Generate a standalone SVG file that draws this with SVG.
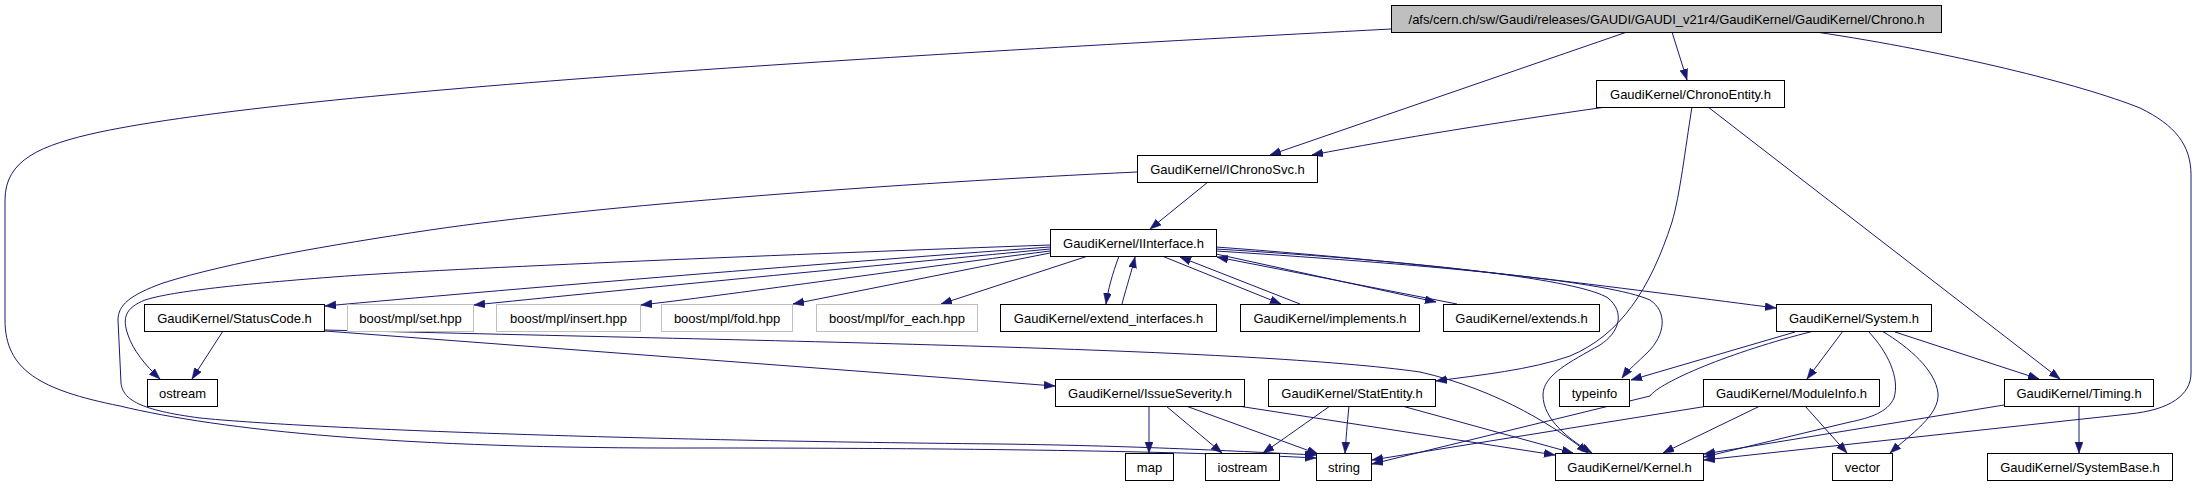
<svg xmlns="http://www.w3.org/2000/svg" width="2201" height="501" viewBox="0 0 2201 501">
<defs>
<marker id="a" markerUnits="userSpaceOnUse" markerWidth="12" markerHeight="9" refX="11" refY="4" orient="auto">
<path d="M0,0 L11,4 L0,8 z" fill="#191970" stroke="#191970" stroke-width="0.5"/>
</marker>
</defs>
<style>
rect{fill:#fff;stroke:#000;stroke-width:1}
.gray rect{stroke:#bfbfbf}
#n_chrono rect{fill:#bfbfbf}
text{font-family:"Liberation Sans",Arial,sans-serif;font-size:13px;text-anchor:middle;fill:#000}
#edges path{fill:none;stroke:#191970;stroke-width:1;marker-end:url(#a)}
</style>
<rect x="0" y="0" width="2201" height="501" style="fill:#fff;stroke:none"/>
<g id="edges">
<path d="M1391,29 C900,55 300,90 100,132 C40,145 5,160 5,200 L5,320 C5,370 40,390 120,406 C220,430 400,449 700,448 C1000,448 1200,452 1316,458"/>
<path d="M1137,172 C900,183 600,205 430,230 C330,245 230,262 163,283 C130,295 118,305 118,320 L121,383 C123,400 140,410 200,418 C300,428 600,440 1000,444 C1150,446 1250,452 1316,455"/>
<path d="M1627,32 L1270,155"/>
<path d="M1672,32 L1687,80"/>
<path d="M1816,32 C1950,52 2080,84 2140,108 C2175,125 2191,145 2191,175 L2191,373 C2191,395 2170,410 2129,414 L1704,460"/>
<path d="M1606,107 C1500,122 1400,138 1312,155"/>
<path d="M1692,107 C1685,150 1680,195 1672,222 C1650,290 1620,335 1570,356 C1530,370 1480,375 1436,381"/>
<path d="M1708,107 L2060,379"/>
<path d="M1208,182 L1150,229"/>
<path d="M1050,247 C800,265 500,290 325,306"/>
<path d="M1050,249 C850,268 600,292 474,305"/>
<path d="M1050,251 C900,270 720,296 641,305"/>
<path d="M1050,253 L793,304"/>
<path d="M1088,256 L941,304"/>
<path d="M1119,256 C1112,275 1108,290 1106,304"/>
<path d="M1122,304 C1127,285 1132,270 1135,257"/>
<path d="M1162,256 L1281,304"/>
<path d="M1300,304 L1180,257"/>
<path d="M1216,254 L1436,302"/>
<path d="M1457,304 L1217,257"/>
<path d="M1050,245 C800,254 450,268 333,277 C230,285 170,292 145,300 C125,308 122,318 128,335 C133,350 145,365 160,379"/>
<path d="M1216,247 C1450,264 1650,292 1776,308"/>
<path d="M1216,251 C1450,266 1610,282 1650,300 C1668,312 1665,335 1648,352 C1638,362 1628,370 1622,378"/>
<path d="M1216,249 C1430,262 1580,280 1608,298 C1625,312 1620,332 1600,345 C1570,362 1543,375 1543,395 C1543,420 1570,440 1592,453"/>
<path d="M223,331 L192,379"/>
<path d="M325,331 L1055,386"/>
<path d="M325,330 C800,342 1250,348 1420,372 C1500,390 1560,430 1588,453"/>
<path d="M1149,406 L1149,453"/>
<path d="M1166,406 L1222,453"/>
<path d="M1186,406 L1318,454"/>
<path d="M1238,406 L1555,455"/>
<path d="M1330,406 C1310,420 1285,438 1263,453"/>
<path d="M1349,406 C1347,425 1346,440 1345,453"/>
<path d="M1402,406 L1573,453"/>
<path d="M1795,332 L1631,380"/>
<path d="M1814,331 C1730,352 1660,382 1650,396 L1372,464"/>
<path d="M1708,406 L1372,460"/>
<path d="M1843,331 L1807,379"/>
<path d="M1868,331 C1888,352 1900,378 1894,398 C1888,412 1870,418 1850,422 L1704,457"/>
<path d="M1882,331 C1910,348 1935,370 1938,393 C1940,415 1910,435 1890,453"/>
<path d="M1895,332 L2039,379"/>
<path d="M1760,406 L1663,453"/>
<path d="M1805,406 L1847,453"/>
<path d="M2004,405 L1704,454"/>
<path d="M2079,406 L2079,453"/>
</g>
<g id="n_chrono"><rect x="1391.5" y="5.5" width="550" height="27"/><text x="1666.5" y="23.5">/afs/cern.ch/sw/Gaudi/releases/GAUDI/GAUDI_v21r4/GaudiKernel/GaudiKernel/Chrono.h</text></g>
<g id="n_chronoentity"><rect x="1596.5" y="80.5" width="188" height="27"/><text x="1690.5" y="98.5">GaudiKernel/ChronoEntity.h</text></g>
<g id="n_ichronosvc"><rect x="1137.5" y="155.5" width="180" height="27"/><text x="1227.5" y="173.5">GaudiKernel/IChronoSvc.h</text></g>
<g id="n_iinterface"><rect x="1050.5" y="229.5" width="166" height="27"/><text x="1133.5" y="247.5">GaudiKernel/IInterface.h</text></g>
<g id="n_statuscode"><rect x="144.5" y="304.5" width="180" height="27"/><text x="234.5" y="322.5">GaudiKernel/StatusCode.h</text></g>
<g id="n_set" class="gray"><rect x="347.5" y="304.5" width="126" height="27"/><text x="410.5" y="322.5">boost/mpl/set.hpp</text></g>
<g id="n_insert" class="gray"><rect x="496.5" y="304.5" width="144" height="27"/><text x="568.5" y="322.5">boost/mpl/insert.hpp</text></g>
<g id="n_fold" class="gray"><rect x="661.5" y="304.5" width="131" height="27"/><text x="727" y="322.5">boost/mpl/fold.hpp</text></g>
<g id="n_foreach" class="gray"><rect x="816.5" y="304.5" width="161" height="27"/><text x="897" y="322.5">boost/mpl/for_each.hpp</text></g>
<g id="n_extend_interfaces"><rect x="1000.5" y="304.5" width="216" height="27"/><text x="1108.5" y="322.5">GaudiKernel/extend_interfaces.h</text></g>
<g id="n_implements"><rect x="1240.5" y="304.5" width="179" height="27"/><text x="1330" y="322.5">GaudiKernel/implements.h</text></g>
<g id="n_extends"><rect x="1443.5" y="304.5" width="156" height="27"/><text x="1521.5" y="322.5">GaudiKernel/extends.h</text></g>
<g id="n_system"><rect x="1776.5" y="304.5" width="155" height="27"/><text x="1854" y="322.5">GaudiKernel/System.h</text></g>
<g id="n_ostream"><rect x="147.5" y="379.5" width="70" height="27"/><text x="182.5" y="397.5">ostream</text></g>
<g id="n_issueseverity"><rect x="1055.5" y="379.5" width="189" height="27"/><text x="1150" y="397.5">GaudiKernel/IssueSeverity.h</text></g>
<g id="n_statentity"><rect x="1268.5" y="379.5" width="167" height="27"/><text x="1352" y="397.5">GaudiKernel/StatEntity.h</text></g>
<g id="n_typeinfo"><rect x="1559.5" y="379.5" width="70" height="27"/><text x="1594.5" y="397.5">typeinfo</text></g>
<g id="n_moduleinfo"><rect x="1703.5" y="379.5" width="176" height="27"/><text x="1791.5" y="397.5">GaudiKernel/ModuleInfo.h</text></g>
<g id="n_timing"><rect x="2004.5" y="379.5" width="149" height="27"/><text x="2079" y="397.5">GaudiKernel/Timing.h</text></g>
<g id="n_map"><rect x="1125.5" y="453.5" width="48" height="27"/><text x="1149.5" y="471.5">map</text></g>
<g id="n_iostream"><rect x="1205.5" y="453.5" width="74" height="27"/><text x="1242.5" y="471.5">iostream</text></g>
<g id="n_string"><rect x="1316.5" y="453.5" width="55" height="27"/><text x="1344" y="471.5">string</text></g>
<g id="n_kernel"><rect x="1555.5" y="453.5" width="148" height="27"/><text x="1629.5" y="471.5">GaudiKernel/Kernel.h</text></g>
<g id="n_vector"><rect x="1832.5" y="453.5" width="60" height="27"/><text x="1862.5" y="471.5">vector</text></g>
<g id="n_systembase"><rect x="1987.5" y="453.5" width="185" height="27"/><text x="2080" y="471.5">GaudiKernel/SystemBase.h</text></g>
</svg>
